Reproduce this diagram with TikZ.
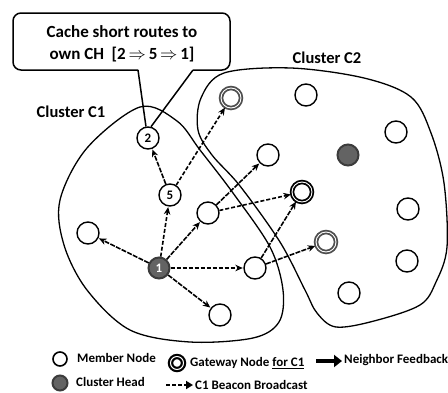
\documentclass[tikz,border=0pt]{standalone}
\usepackage{fontspec}
\setmainfont{Carlito}
\usetikzlibrary{arrows.meta}
\definecolor{chfill}{HTML}{636363}
\definecolor{chborder}{HTML}{3C3C3C}
\definecolor{gwgray}{HTML}{4E4E4E}
\begin{document}
\begin{tikzpicture}[x=1pt,y=-1pt,
  numfont/.style={font=\bfseries\fontsize{13}{13}\selectfont},
  member/.style={circle,draw,line width=1.4pt,fill=white,minimum size=22pt,inner sep=0pt,numfont},
  chead/.style={circle,draw=chborder,line width=2pt,fill=chfill,minimum size=21pt,inner sep=0pt,text=white,numfont},
  gwblack/.style={circle,draw=black,line width=1.8pt,double=white,double distance=0.9pt,fill=white,minimum size=20pt,inner sep=0pt},
  gwgrey/.style={gwblack,draw=gwgray},
  cluster/.style={line width=1.3pt},
  lbl/.style={font=\bfseries\fontsize{16.5}{19}\selectfont},
  leg/.style={font=\bfseries\fontsize{13}{15}\selectfont,anchor=west,inner sep=0pt},
  arr/.style={line width=1.6pt,-{Stealth[length=7.5pt,width=6.5pt]},shorten >=0.5pt},
  dense/.style={arr,dash pattern=on 5pt off 1.3pt},
  sparse/.style={arr,dash pattern=on 4pt off 2pt},
]
\useasboundingbox (0,0) rectangle (448,392);
% clusters
\draw[cluster] plot[smooth cycle,tension=0.55] coordinates {
  (140,107) (177,121) (200,150) (233,193) (270,247) (283,290) (279,322)
  (253,338) (190,342) (130,330) (87,290) (64,245) (60,200) (87,148)};
\draw[cluster] plot[smooth cycle,tension=0.55] coordinates {
  (224,73) (291,68) (364,78) (411,97) (431,133) (444,183) (447,247)
  (436,282) (420,305) (374,321) (336,327) (317,313) (305,290) (280,242)
  (240,186) (212,155) (198,130) (201,98)};
% labels
\node[lbl] (lc1) at (71,112) {Cluster C1};
\node[lbl] (lc2) at (327,58) {Cluster C2};
% nodes
\node[member] (n2) at (148,138) {2};
\node[member] (n5) at (170,195) {5};
\node[member] (nL) at (88,233) {};
\node[member] (nA) at (208,213) {};
\node[member] (nB) at (268,155) {};
\node[member] (nC) at (255,268) {};
\node[member] (nD) at (220,315) {};
\node[chead] (n1) at (159,268) {1};
\node[gwblack] (g1) at (302,192) {};
\node[gwgrey] (g2) at (326,242) {};
\node[gwgrey] (g3) at (231,98) {};
\node[member] (c2a) at (306,95) {};
\node[member] (c2b) at (396,132) {};
\node[chead] (ch2) at (348,155) {};
\node[member] (c2c) at (408,209) {};
\node[member] (c2d) at (407,261) {};
\node[member] (c2e) at (349,293) {};
% arrows
\draw[dense] (n1) -- (nL);
\draw[sparse] (n1) -- (n5);
\draw[dense] (n1) -- (nA);
\draw[sparse] (n1) -- (nC);
\draw[dense] (n1) -- (nD);
\draw[dense] (n5) -- (n2);
\draw[sparse] (n5) -- (g3);
\draw[dense] (nA) -- (nB);
\draw[sparse] (nA) -- (g1);
\draw[dense] (nC) -- (g1);
\draw[dense] (nC) -- (g2);
% callout
\draw[line width=1.5pt,rounded corners=8pt] (138,70) -- (13,70) -- (13,13) -- (230,13) -- (230,70) -- (193,70);
\draw[line width=1.5pt] (138,70) -- (n2.100);
\draw[line width=1.5pt] (193,70) -- (n2.75);
\node[align=center,font=\bfseries\fontsize{17}{22}\selectfont] (call) at (122,43.5) {Cache short routes to\\own CH~~[2\,$\Rightarrow$\,5\,$\Rightarrow$\,1]};
% legend
\node[circle,draw,line width=1.6pt,minimum size=14pt,inner sep=0pt] (lm) at (60,359) {};
\node[circle,draw=chborder,line width=2pt,fill=chfill,minimum size=15pt,inner sep=0pt] (lch) at (60,383) {};
\node[circle,draw,line width=2.2pt,double=white,double distance=1pt,minimum size=13pt,inner sep=0pt] (lg) at (177,363) {};
\node[leg] (tm) at (77,358) {Member Node};
\node[leg] (tch) at (76,382) {Cluster Head};
\node[leg] (tg) at (190,363) {Gateway Node \underline{for C1}};
\node[leg] (tnf) at (344,360) {Neighbor Feedback};
\node[leg] (tbb) at (195,385) {C1 Beacon Broadcast};
\coordinate (nf1) at (316,361);
\coordinate (nf2) at (342,361);
\coordinate (bb1) at (166,385);
\coordinate (bb2) at (193,385);
\draw[line width=4pt,-{Triangle[length=8pt,width=12pt]}] (nf1) -- (nf2);
\draw[line width=2pt,dash pattern=on 4pt off 2pt,-{Triangle[length=7pt,width=8pt]}] (bb1) -- (bb2);
\end{tikzpicture}
\end{document}
